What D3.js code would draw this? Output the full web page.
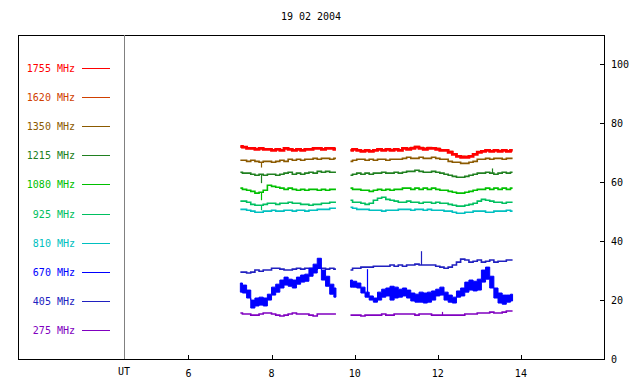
<!DOCTYPE html>
<html>
<head>
<meta charset="utf-8">
<script src="https://cdn.jsdelivr.net/npm/d3@7"></script>
<style>
  body { margin: 0; background: #fff; }
  text { font-family: "DejaVu Sans Mono", monospace; font-size: 10px; }
</style>
</head>
<body>
<svg id="chart" width="640" height="384"></svg>
<script>
const title = "19 02 2004";
const freqs = [1755, 1620, 1350, 1215, 1080, 925, 810, 670, 405, 275];
const colors = ["#ff0000", "#d04000", "#8b5a00", "#208020", "#00c000", "#00c060", "#00c0c0", "#0000ff", "#2020c0", "#8000c0"];
const hourTicks = [6, 8, 10, 12, 14];
const valueTicks = [0, 20, 40, 60, 80, 100];

// two recording segments, sampled every 0.1 h (UT)
const seg1Start = 7.25, seg2Start = 9.9, step = 0.1;

const s1755a = [72.2,71.9,71.5,71.5,71.2,71.5,71.2,71.2,70.8,71.2,70.8,71.5,71.2,70.8,71.2,70.8,71.2,71.2,71.5,71.5,71.2,71.5,71.5,71.2];
const s1755b = [70.8,71.2,70.8,70.5,70.8,70.5,70.8,71.2,70.8,71.2,70.8,71.2,70.8,71.5,71.2,71.5,71.9,71.5,71.2,71.5,71.5,71.2,70.8,70.8,70.2,69.5,68.8,68.5,68.5,68.8,69.5,70.2,70.5,70.8,70.5,70.8,70.5,70.8,70.5,70.8];
const s1620a = [72.0,71.8,71.6,71.5,71.3,71.5,71.3,71.2,71.0,71.2,71.0,71.5,71.3,71.0,71.2,71.0,71.2,71.3,71.6,71.6,71.3,71.6,71.7,71.5];
const s1620b = [70.9,71.2,71.0,70.6,70.8,70.6,70.9,71.2,71.0,71.3,71.0,71.3,71.0,71.7,71.5,71.8,72.1,71.8,71.5,71.8,71.7,71.5,71.0,70.9,70.4,69.7,69.0,68.8,68.7,69.0,69.6,70.3,70.6,70.9,70.7,71.0,70.7,71.0,70.7,71.0];
const s1350a = [67.5,67.5,67.1,67.5,67.1,66.8,67.1,67.1,66.8,67.1,67.5,67.1,67.8,67.5,67.8,67.5,67.8,67.8,68.1,67.8,68.1,68.1,67.8,68.1];
const s1350b = [67.1,67.5,67.8,67.8,67.5,67.8,67.5,67.8,67.8,67.5,67.8,67.8,67.8,68.1,68.5,68.1,68.1,68.5,68.1,68.1,68.5,68.1,67.8,67.8,67.1,66.8,66.8,66.4,66.4,66.8,67.1,67.8,67.8,68.1,67.8,68.1,68.1,67.8,68.1,68.1];
const s1215a = [63.4,63.1,63.1,62.7,62.4,62.7,62.4,62.7,62.7,62.4,62.7,63.1,63.4,62.7,63.1,62.7,63.1,63.4,63.1,63.7,63.4,63.7,63.4,63.4];
const s1215b = [62.4,62.7,63.1,62.7,63.1,62.7,63.1,63.1,63.4,63.1,63.1,63.4,63.1,63.4,63.7,63.7,64.1,63.7,63.4,63.4,63.7,63.4,63.1,62.7,62.4,62.0,61.7,61.7,62.0,62.4,62.7,63.1,63.1,63.4,63.1,62.7,63.1,63.4,63.1,63.4];
const s1080a = [58.0,57.6,57.3,56.9,56.3,56.6,57.3,59.0,58.6,58.3,58.0,57.6,58.0,57.6,57.3,57.6,57.3,57.6,57.6,57.3,57.6,57.3,57.6,57.6];
const s1080b = [58.0,57.6,57.6,57.3,57.3,56.9,57.3,57.6,57.3,57.6,57.3,57.6,57.6,58.0,58.0,57.6,58.0,57.6,58.0,57.6,58.0,57.6,57.3,57.3,56.9,56.6,56.3,56.3,56.6,56.9,57.3,57.6,57.6,58.0,57.6,58.0,57.6,58.0,57.6,58.0];
const s925a = [53.6,53.6,53.2,52.5,52.2,52.2,52.5,52.9,52.9,52.5,52.9,52.9,53.2,52.9,52.9,52.5,52.5,52.2,52.5,52.5,52.9,52.9,53.2,53.2];
const s925b = [53.9,53.2,53.2,52.9,52.5,52.9,53.9,54.6,54.9,54.2,53.9,53.6,53.2,53.2,53.6,53.2,53.2,52.9,53.2,53.2,52.9,53.2,52.9,52.9,52.5,52.2,51.9,51.9,52.2,52.5,52.9,53.6,54.2,53.9,53.6,53.2,53.2,52.9,53.2,53.2];
const s810a = [50.8,50.8,50.5,50.2,49.8,49.8,50.2,50.2,50.5,50.2,50.2,50.5,50.5,50.2,50.5,50.5,50.2,50.5,50.5,50.8,50.8,50.8,51.2,51.2];
const s810b = [51.5,51.2,50.8,50.8,50.8,50.5,50.5,50.5,50.2,50.5,50.5,50.5,50.8,50.8,50.8,50.5,50.8,50.8,50.5,50.8,50.5,50.5,50.5,50.2,50.2,49.8,49.5,49.5,49.8,49.8,50.2,50.2,50.2,49.8,49.8,50.2,50.2,50.2,50.5,50.2];
// 670 MHz is very noisy: kept as an envelope (upper / lower)
const s670hiA = [25.8,25.1,23.4,20.0,20.7,21.0,20.7,22.0,24.4,25.4,26.8,27.8,27.1,26.8,27.8,28.5,28.8,30.8,32.2,34.2,30.2,28.1,25.4,24.1];
const s670loA = [22.7,22.4,20.7,17.3,18.0,18.3,18.0,20.0,21.7,22.7,24.1,25.1,24.7,24.1,25.4,26.1,26.4,28.1,29.2,30.8,26.8,24.7,22.0,21.0];
const s670hiB = [26.8,26.4,25.8,24.4,22.7,21.4,20.7,22.7,23.7,24.1,24.7,24.4,23.7,24.1,23.4,22.4,22.0,22.7,22.4,22.7,23.1,23.7,24.4,22.7,21.7,21.0,23.1,24.1,26.1,26.8,26.4,27.1,30.2,31.2,28.1,24.1,22.4,21.7,21.7,22.0];
const s670loB = [24.4,24.4,24.1,22.4,21.0,20.0,19.3,20.0,21.0,21.4,20.0,20.7,21.0,21.4,20.7,19.7,19.3,19.3,19.0,19.3,20.0,21.4,21.7,20.0,19.3,19.0,21.0,21.4,22.7,23.4,23.1,23.4,26.1,27.1,24.1,20.7,19.0,18.6,19.3,19.7];
const s405a = [29.5,29.5,29.2,29.5,30.2,29.8,30.2,30.2,30.8,30.8,30.5,30.2,30.2,30.5,30.8,30.5,30.8,30.8,30.5,30.8,30.8,30.5,30.8,30.5];
const s405b = [30.2,30.8,30.8,31.2,31.2,31.2,31.5,31.5,31.5,31.5,31.9,31.5,31.9,31.5,31.9,31.9,32.2,31.9,31.9,31.9,31.9,31.5,31.2,30.8,31.2,31.9,32.9,33.9,33.6,32.9,33.2,33.6,32.9,33.2,33.6,32.9,33.2,33.2,33.6,33.6];
const s275a = [15.6,15.3,15.3,14.9,14.9,15.3,15.6,15.6,15.3,14.9,14.6,14.9,15.3,15.6,15.3,15.3,15.3,14.9,14.6,15.3,15.3,15.3,15.3,15.3];
const s275b = [14.9,14.9,14.9,14.6,14.9,14.9,14.9,14.9,15.3,14.9,14.9,15.3,15.3,15.3,15.3,15.3,14.9,15.3,15.3,15.3,14.9,14.9,14.9,14.9,14.9,14.9,14.9,14.9,15.3,15.3,15.3,15.6,15.6,15.6,15.9,15.6,15.6,15.9,16.3,16.3];

// short spikes: [freq, time UT, peak value]
const spikes = [[1350, 7.7, 65.0], [1215, 7.7, 59.7], [1080, 7.7, 53.9], [925, 7.7, 50.5],
                [1215, 13.3, 64.7], [670, 10.3, 30.5], [405, 11.55, 36.6], [275, 12.1, 16.0]];

const lines = {
  1755: [s1755a, s1755b], 1620: [s1620a, s1620b], 1350: [s1350a, s1350b],
  1215: [s1215a, s1215b], 1080: [s1080a, s1080b], 925: [s925a, s925b],
  810: [s810a, s810b], 405: [s405a, s405b], 275: [s275a, s275b]
};
const band670 = [[s670hiA, s670loA], [s670hiB, s670loB]];
const starts = [seg1Start, seg2Start];

const svg = d3.select("#chart");
const frame = { left: 18, top: 35, right: 604, bottom: 359, plotLeft: 124 };

const x = d3.scaleLinear().domain([4.45, 16]).range([frame.plotLeft, frame.right]);
const y = d3.scaleLinear().domain([0, 110]).range([frame.bottom, frame.top]);
const color = d3.scaleOrdinal().domain(freqs).range(colors);

// frame
svg.append("rect").attr("x", frame.left + 0.5).attr("y", frame.top + 0.5)
  .attr("width", frame.right - frame.left).attr("height", frame.bottom - frame.top)
  .attr("fill", "none").attr("stroke", "#000");
svg.append("line").attr("x1", frame.plotLeft + 0.5).attr("x2", frame.plotLeft + 0.5)
  .attr("y1", frame.top).attr("y2", frame.bottom).attr("stroke", "#808080");

svg.append("text").attr("x", (frame.left + frame.right) / 2).attr("y", 20)
  .attr("text-anchor", "middle").text(title);

// bottom ticks (inward)
const xAxis = svg.append("g");
hourTicks.forEach(h => {
  xAxis.append("line").attr("x1", Math.round(x(h)) + 0.5).attr("x2", Math.round(x(h)) + 0.5)
    .attr("y1", frame.bottom).attr("y2", frame.bottom - 4).attr("stroke", "#000");
  xAxis.append("text").attr("x", x(h)).attr("y", frame.bottom + 18)
    .attr("text-anchor", "middle").text(h);
});
xAxis.append("text").attr("x", frame.plotLeft).attr("y", frame.bottom + 16)
  .attr("text-anchor", "middle").text("UT");

// right axis
const yAxis = svg.append("g");
valueTicks.forEach(v => {
  if (v > 0) yAxis.append("line").attr("x1", frame.right - 4).attr("x2", frame.right)
    .attr("y1", Math.round(y(v)) + 0.5).attr("y2", Math.round(y(v)) + 0.5).attr("stroke", "#000");
  yAxis.append("text").attr("x", frame.right + 7).attr("y", y(v) + 4).text(v);
});

// legend
const legendY = d3.scalePoint().domain(freqs).range([68, 330]);
const legend = svg.append("g");
freqs.forEach(f => {
  const ly = Math.round(legendY(f)) + 0.5;
  legend.append("text").attr("x", 75).attr("y", ly + 3.5)
    .attr("text-anchor", "end").attr("fill", color(f)).text(f + " MHz");
  legend.append("line").attr("x1", 82).attr("x2", 110).attr("y1", ly).attr("y2", ly)
    .attr("stroke", color(f));
});

// traces (step curve, like the sampled recorder output)
const line = (start) => d3.line().curve(d3.curveStep)
  .x((d, i) => x(start + i * step)).y(d => y(d));
const area = (start) => d3.area().curve(d3.curveStep)
  .x((d, i) => x(start + i * step))
  .y0(d => y(d[1])).y1(d => y(d[0]));

const plot = svg.append("g");
[275, 405, 810, 925, 1080, 1215, 1350, 1620, 1755].forEach(f => {
  lines[f].forEach((seg, k) => {
    plot.append("path").attr("d", line(starts[k])(seg))
      .attr("fill", "none").attr("stroke", color(f))
      .attr("stroke-width", f === 1755 ? 2.8 : 1.6);
  });
});
band670.forEach(([hi, lo], k) => {
  plot.append("path").attr("d", area(starts[k])(d3.zip(hi, lo)))
    .attr("fill", color(670)).attr("stroke", color(670)).attr("stroke-width", 1);
});

// spikes
spikes.forEach(([f, t, v]) => {
  const k = t < seg2Start ? 0 : 1;
  const i = Math.round((t - starts[k]) / step);
  const base = f === 670 ? band670[k][1][i] : lines[f][k][i];
  const xs = Math.round(x(starts[k] + i * step)) + 0.5;
  plot.append("line").attr("x1", xs).attr("x2", xs)
    .attr("y1", y(base)).attr("y2", y(v))
    .attr("stroke", color(f)).attr("stroke-width", 1.2);
});
</script>
</body>
</html>
